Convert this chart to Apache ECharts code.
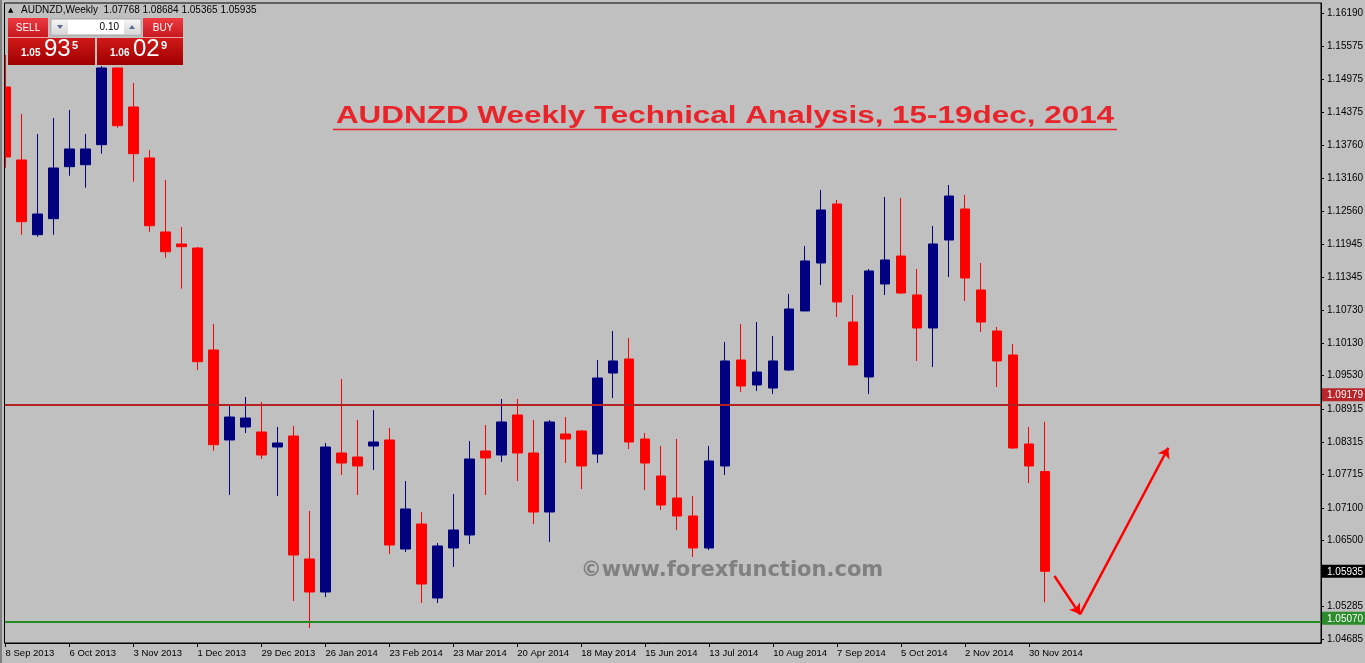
<!DOCTYPE html>
<html><head><meta charset="utf-8">
<script src="https://cdn.jsdelivr.net/npm/echarts@6/dist/echarts.min.js"></script>
<style>html,body{margin:0;padding:0;background:#C0C0C0;overflow:hidden}#c{width:1365px;height:663px}</style>
</head><body><div id="c"></div>
<script>
// Weekly AUDNZD candles, one per week starting 8 Sep 2013
const openArr = [1.14835,1.13494,1.12121,1.12415,1.13371,1.13407,1.13775,1.15185,1.14468,1.13531,
1.12171,1.11950,1.11876,1.10002,1.08348,1.08587,1.08495,1.08219,1.08421,1.06161,
1.05554,1.08109,1.08035,1.08237,1.08348,1.06344,1.06804,1.05444,1.06363,1.06602,
1.08146,1.08072,1.08807,1.08109,1.07024,1.08458,1.08513,1.08090,1.09579,1.09836,
1.08366,1.07686,1.07282,1.06951,1.06363,1.07870,1.09818,1.09359,1.09303,1.09634,
1.10719,1.11601,1.12685,1.10516,1.09506,1.11215,1.11729,1.11013,1.10406,1.12023,
1.12593,1.11105,1.10351,1.09910,1.08274,1.07768];
const highArr = [1.15424,1.14339,1.13972,1.14266,1.14413,1.13972,1.15221,1.15185,1.14909,1.13678,
1.13126,1.12262,1.11895,1.10480,1.08991,1.09138,1.09046,1.08587,1.08605,1.07043,
1.08293,1.09469,1.08715,1.08899,1.08568,1.07594,1.07024,1.06455,1.07355,1.08329,
1.08623,1.09101,1.09101,1.08715,1.08715,1.08770,1.08531,1.09818,1.10351,1.10222,
1.08476,1.08237,1.08366,1.07318,1.08237,1.10149,1.10480,1.10516,1.10259,1.11031,
1.11913,1.12942,1.12759,1.11013,1.11490,1.12814,1.12795,1.11490,1.12281,1.13034,
1.12851,1.11601,1.10425,1.10112,1.08587,1.08684];
const lowArr = [1.13352,1.12121,1.12084,1.12121,1.13205,1.12985,1.13610,1.14087,1.13095,1.12176,
1.11698,1.11128,1.09634,1.08151,1.07337,1.08476,1.07998,1.07318,1.05389,1.04892,
1.05462,1.07704,1.07337,1.07796,1.06252,1.06289,1.05352,1.05352,1.06014,1.06436,
1.07337,1.07943,1.07594,1.06804,1.06473,1.07925,1.07447,1.07925,1.09120,1.08182,
1.07429,1.07061,1.06694,1.06197,1.06326,1.07704,1.09230,1.09248,1.09193,1.09616,
1.10719,1.11196,1.10608,1.09726,1.09193,1.11013,1.11031,1.09800,1.09689,1.11343,
1.10902,1.10333,1.09322,1.08182,1.07557,1.05365];
const closeArr = [1.13549,1.12360,1.12501,1.13347,1.13696,1.13696,1.15185,1.14124,1.13610,1.12286,
1.11808,1.11900,1.09787,1.08261,1.08770,1.08752,1.08072,1.08293,1.06234,1.05554,
1.08219,1.07925,1.07870,1.08311,1.06418,1.07080,1.05701,1.06400,1.06694,1.07998,
1.08017,1.08679,1.08109,1.07024,1.08679,1.08366,1.07870,1.09487,1.09800,1.08311,
1.07925,1.07153,1.06951,1.06363,1.07962,1.09800,1.09340,1.09597,1.09800,1.10755,
1.11638,1.12575,1.10884,1.09726,1.11454,1.11656,1.11049,1.10406,1.11950,1.12832,
1.11325,1.10516,1.09800,1.08201,1.07870,1.05935];

// x-axis tick labels (every 4th week)
const tickWeeks = [0,4,8,12,16,20,24,28,32,36,40,44,48,52,56,60,64];
const tickLabels = ['8 Sep 2013','6 Oct 2013','3 Nov 2013','1 Dec 2013','29 Dec 2013','26 Jan 2014',
'23 Feb 2014','23 Mar 2014','20 Apr 2014','18 May 2014','15 Jun 2014','13 Jul 2014','10 Aug 2014',
'7 Sep 2014','5 Oct 2014','2 Nov 2014','30 Nov 2014'];
// y-axis price labels
const priceTicks = [1.16190,1.15575,1.14975,1.14375,1.13760,1.13160,1.12560,1.11945,1.11345,1.10730,
1.10130,1.09530,1.08915,1.08315,1.07715,1.07100,1.06500,1.05285,1.04685];
// horizontal levels
const resistanceLevel = 1.09179;
const supportLevel = 1.05070;
const bidPrice = 1.05935;
// forecast arrow path [week, price]
const arrowPoints = [[65.59,1.05848],[67.19,1.05144],[72.71,1.08206]];

const candleData = openArr.map((o, i) => [i, o, closeArr[i], lowArr[i], highArr[i]]);

const chart = echarts.init(document.getElementById('c'), null, {renderer:'canvas'});
const fnt = '"Liberation Sans", Arial, sans-serif';

const specials = {};
specials[resistanceLevel.toFixed(5)] = 'red';
specials[supportLevel.toFixed(5)] = 'grn';
specials[bidPrice.toFixed(5)] = 'blk';

const last = openArr.length - 1;
const headerText = 'AUDNZD,Weekly  ' + [openArr[last], highArr[last], lowArr[last], closeArr[last]].map(v => v.toFixed(5)).join(' ');

const red = '#E8232A';
function grad(a, b){ return new echarts.graphic.LinearGradient(0,0,0,1,[{offset:0,color:a},{offset:1,color:b}]); }

const option = {
  animation: false,
  backgroundColor: '#C0C0C0',
  grid: {left: 4, right: 44, top: 3, bottom: 20, show: true, borderColor: '#000', borderWidth: 1,
    backgroundColor: '#C0C0C0', containLabel: false, outerBoundsMode: 'none'},
  xAxis: {
    type: 'value', min: -0.1, max: 82.26,
    axisLine: {show: true, onZero: false, lineStyle: {color: '#000', width: 1}},
    axisTick: {show: true, length: 4, customValues: tickWeeks, lineStyle: {color: '#000'}},
    splitLine: {show: false},
    axisLabel: {customValues: tickWeeks, align: 'left', margin: 5, fontSize: 9.5, fontFamily: fnt, color: '#000',
      formatter: v => tickLabels[tickWeeks.indexOf(Math.round(v))] || ''}
  },
  yAxis: {
    type: 'value', position: 'right', min: 1.04617, max: 1.16379, scale: true,
    axisLine: {show: true, onZero: false, lineStyle: {color: '#000', width: 1}},
    axisTick: {show: true, length: 3, customValues: priceTicks, lineStyle: {color: '#000'}},
    splitLine: {show: false},
    axisLabel: {
      customValues: priceTicks.concat([resistanceLevel, supportLevel, bidPrice]),
      margin: 1, fontSize: 10, fontFamily: fnt, color: '#000',
      formatter: v => {
        const s = v.toFixed(5);
        const k = specials[s] || 'n';
        return '{' + k + '|' + s + '}';
      },
      rich: {
        n: {padding: [0,0,0,5], fontSize: 10, fontFamily: fnt, color: '#000'},
        red: {backgroundColor: '#B8262B', color: '#fff', padding: [2,3,1,5], fontSize: 10, fontFamily: fnt},
        grn: {backgroundColor: '#2A8C2A', color: '#fff', padding: [2,3,1,5], fontSize: 10, fontFamily: fnt},
        blk: {backgroundColor: '#000', color: '#fff', padding: [2,3,1,5], fontSize: 10, fontFamily: fnt}
      }
    }
  },
  series: [
    {
      type: 'candlestick',
      data: candleData,
      barWidth: 10,
      clip: true,
      itemStyle: {color: '#000080', color0: '#FF0000', borderColor: '#000080', borderColor0: '#FF0000', borderWidth: 1},
      markLine: {
        silent: true, symbol: 'none', animation: false,
        label: {show: false},
        data: [
          {yAxis: resistanceLevel, lineStyle: {color: '#B22222', width: 2, type: 'solid'}},
          {yAxis: supportLevel, lineStyle: {color: '#228B22', width: 2, type: 'solid'}}
        ]
      }
    },
    {
      type: 'line', data: [],
      markLine: {
        silent: true, animation: false, symbol: ['none','arrow'], symbolSize: 10,
        label: {show: false},
        lineStyle: {color: '#FF0000', width: 2.5, type: 'solid'},
        data: [
          [{coord: arrowPoints[0]}, {coord: arrowPoints[1]}],
          [{coord: arrowPoints[1]}, {coord: arrowPoints[2]}]
        ]
      }
    }
  ],
  graphic: [
    {type: 'rect', z: 100, shape: {x: 0, y: 0, width: 4.5, height: 663}, style: {fill: '#C0C0C0'}, silent: true},
    {type: 'rect', z: 101, shape: {x: 0, y: 0, width: 2, height: 663}, style: {fill: '#808080'}, silent: true},
    {type: 'line', z: 101, shape: {x1: 4.5, y1: 3, x2: 4.5, y2: 643}, style: {stroke: '#000', lineWidth: 1}, silent: true},
    {type: 'text', z: 101, x: 8, y: 10, style: {text: '▲', font: '7px "DejaVu Sans"', fill: '#000', textVerticalAlign: 'middle'}},
    {type: 'text', z: 101, x: 21, y: 10.5, style: {text: headerText, font: '10px ' + fnt, fill: '#000', textVerticalAlign: 'middle'}},
    // trade panel
    {type: 'rect', z: 101, shape: {x: 8, y: 18, width: 40, height: 19}, style: {fill: grad('#EE3A40', '#C81820')}},
    {type: 'rect', z: 101, shape: {x: 143, y: 18, width: 40, height: 19}, style: {fill: grad('#EE3A40', '#C81820')}},
    {type: 'line', z: 102, shape: {x1: 9, y1: 37.5, x2: 47, y2: 37.5}, style: {stroke: '#F0A0A0', lineWidth: 1}},
    {type: 'line', z: 102, shape: {x1: 144, y1: 37.5, x2: 182, y2: 37.5}, style: {stroke: '#F0A0A0', lineWidth: 1}},
    {type: 'text', z: 102, x: 28, y: 28, style: {text: 'SELL', font: '10px ' + fnt, fill: '#fff', textAlign: 'center', textVerticalAlign: 'middle'}},
    {type: 'text', z: 102, x: 163, y: 28, style: {text: 'BUY', font: '10px ' + fnt, fill: '#fff', textAlign: 'center', textVerticalAlign: 'middle'}},
    {type: 'rect', z: 101, shape: {x: 51, y: 19, width: 90, height: 16}, style: {fill: '#fff', stroke: '#A0A0A0', lineWidth: 1}},
    {type: 'rect', z: 102, shape: {x: 52, y: 20, width: 16, height: 14}, style: {fill: grad('#F4F4F4', '#D8D8D8')}},
    {type: 'rect', z: 102, shape: {x: 124, y: 20, width: 16, height: 14}, style: {fill: grad('#F4F4F4', '#D8D8D8')}},
    {type: 'polygon', z: 103, shape: {points: [[57,25],[63,25],[60,29]]}, style: {fill: '#5A6A9A'}},
    {type: 'polygon', z: 103, shape: {points: [[129,29],[135,29],[132,25]]}, style: {fill: '#5A6A9A'}},
    {type: 'text', z: 102, x: 119, y: 27.5, style: {text: '0.10', font: '10px ' + fnt, fill: '#000', textAlign: 'right', textVerticalAlign: 'middle'}},
    {type: 'rect', z: 101, shape: {x: 8, y: 38, width: 87, height: 27}, style: {fill: grad('#D01818', '#A00000')}},
    {type: 'rect', z: 101, shape: {x: 97, y: 38, width: 86, height: 27}, style: {fill: grad('#D01818', '#A00000')}},
    {type: 'text', z: 102, x: 21, y: 58, style: {text: '1.05', font: 'bold 10px ' + fnt, fill: '#fff', textVerticalAlign: 'bottom'}},
    {type: 'text', z: 102, x: 44, y: 61, style: {text: '93', font: '24px ' + fnt, fill: '#fff', textVerticalAlign: 'bottom'}},
    {type: 'text', z: 102, x: 72, y: 46, style: {text: '5', font: 'bold 11px ' + fnt, fill: '#fff', textVerticalAlign: 'middle'}},
    {type: 'text', z: 102, x: 110, y: 58, style: {text: '1.06', font: 'bold 10px ' + fnt, fill: '#fff', textVerticalAlign: 'bottom'}},
    {type: 'text', z: 102, x: 133, y: 61, style: {text: '02', font: '24px ' + fnt, fill: '#fff', textVerticalAlign: 'bottom'}},
    {type: 'text', z: 102, x: 161, y: 46, style: {text: '9', font: 'bold 11px ' + fnt, fill: '#fff', textVerticalAlign: 'middle'}},
    // title
    {type: 'text', x: 725, y: 116.5, scaleX: 1.31, style: {text: 'AUDNZD Weekly Technical Analysis, 15-19dec, 2014', font: 'bold 24px ' + fnt, fill: red, textAlign: 'center', textVerticalAlign: 'middle'}},
    {type: 'line', shape: {x1: 333, y1: 129.5, x2: 1117, y2: 129.5}, style: {stroke: red, lineWidth: 1.5}},
    // watermark
    {type: 'text', x: 732, y: 571, style: {text: '©www.forexfunction.com', font: 'bold 21px "DejaVu Sans"', fill: '#808080', textAlign: 'center', textVerticalAlign: 'middle'}}
  ]
};
chart.setOption(option);
</script>
</body></html>
